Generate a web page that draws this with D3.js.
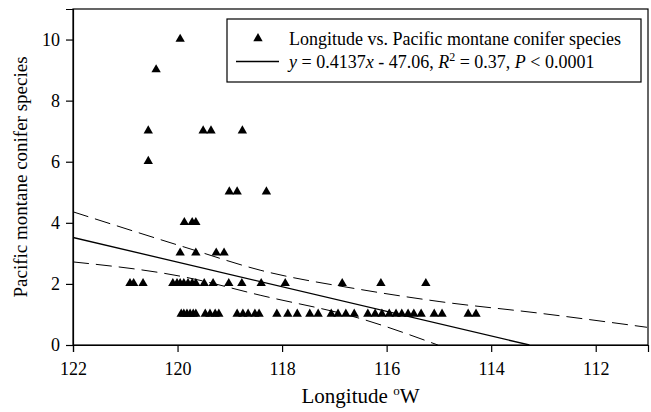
<!DOCTYPE html>
<html>
<head>
<meta charset="utf-8">
<script src="https://d3js.org/d3.v7.min.js"></script>
<style>
  html, body { margin: 0; padding: 0; background: #fff; }
  svg { display: block; }
  text { font-family: "Liberation Serif", "Times New Roman", serif; fill: #000; }
</style>
</head>
<body>
<svg id="chart" width="651" height="412"></svg>
<script>
// ---- data ----
const longitude = [
  119.95,
  120.41,
  120.56, 119.51, 119.36, 118.76,
  120.56,
  119.01, 118.86, 118.30,
  119.87, 119.72, 119.65,
  119.95, 119.65, 119.26, 119.11,
  120.91, 120.84, 120.66, 120.09, 120.01, 119.95, 119.88, 119.80, 119.72, 119.65, 119.49, 119.32, 119.02, 118.77, 118.40, 117.94, 116.85, 116.11, 115.25,
  119.93, 119.88, 119.82, 119.76, 119.70, 119.65, 119.47, 119.38, 119.28, 119.21, 118.86, 118.75, 118.65, 118.52, 118.44, 118.10, 117.89, 117.71, 117.47, 117.31, 117.06, 116.93, 116.78, 116.62, 116.36, 116.22, 116.09, 115.95, 115.82, 115.71, 115.59, 115.48, 115.34, 115.09, 114.94, 114.44, 114.29
];
const species = [
  10,
  9,
  7, 7, 7, 7,
  6,
  5, 5, 5,
  4, 4, 4,
  3, 3, 3, 3,
  2, 2, 2, 2, 2, 2, 2, 2, 2, 2, 2, 2, 2, 2, 2, 2, 2, 2, 2,
  1, 1, 1, 1, 1, 1, 1, 1, 1, 1, 1, 1, 1, 1, 1, 1, 1, 1, 1, 1, 1, 1, 1, 1, 1, 1, 1, 1, 1, 1, 1, 1, 1, 1, 1, 1, 1
];
// fitted regression line (as drawn)
const fitLon = [122, 113.27];
const fitVal = [3.52, 0];
// 95% confidence band (dashed)
const upperLon = [122, 119.82, 118.42, 116.51, 114.98, 113.07, 111.02];
const upperVal = [4.36, 3.18, 2.45, 1.82, 1.42, 1.04, 0.58];
const lowerLon = [122, 119.82, 118.42, 116.51, 115.02];
const lowerVal = [2.72, 2.21, 1.63, 0.87, 0];
const xTicks = [122, 120, 118, 116, 114, 112];
const yTicks = [0, 2, 4, 6, 8, 10];
const legendLabels = ["Longitude vs. Pacific montane conifer species"];

// ---- layout ----
const FONT = "'Liberation Serif', 'Times New Roman', serif";
const svg = d3.select("#chart");
const m = { left: 73, top: 9, right: 3, bottom: 67 };
const W = 651 - m.left - m.right;
const H = 412 - m.top - m.bottom;

const x = d3.scaleLinear().domain([122, 111]).range([0, W]);
const y = d3.scaleLinear().domain([0, 11]).range([H, 0]);

const g = svg.append("g").attr("transform", `translate(${m.left},${m.top})`);

// frame
g.append("rect").attr("x", 0).attr("y", 0).attr("width", W).attr("height", H)
  .attr("fill", "none").attr("stroke", "#000").attr("stroke-width", 1.2);

// axes
const xAxis = g.append("g").attr("transform", `translate(0,${H})`)
  .call(d3.axisBottom(x).tickValues(xTicks).tickSize(7).tickPadding(6).tickFormat(d3.format("d")));
const yAxis = g.append("g")
  .call(d3.axisLeft(y).tickValues(yTicks).tickSize(7).tickPadding(6).tickFormat(d3.format("d")));
[xAxis, yAxis].forEach(a => {
  a.attr("font-family", FONT).attr("font-size", 18);
  a.select(".domain").attr("stroke", "#000").attr("stroke-width", 1.2);
  a.selectAll(".tick line").attr("stroke", "#000").attr("stroke-width", 1.2);
  a.selectAll(".tick text").attr("font-family", FONT).style("font-family", FONT)
    .style("font-size", "18px").attr("fill", "#000");
});
xAxis.selectAll(".tick text").attr("dy", "0.95em");

// clip
svg.append("defs").append("clipPath").attr("id", "clip")
  .append("rect").attr("width", W).attr("height", H);
const plot = g.append("g").attr("clip-path", "url(#clip)");

const line = d3.line().x(d => x(d[0])).y(d => y(d[1]));
const curve = d3.line().x(d => x(d[0])).y(d => y(d[1])).curve(d3.curveMonotoneX);

plot.append("path").datum(fitLon.map((v, i) => [v, fitVal[i]]))
  .attr("d", line).attr("fill", "none").attr("stroke", "#000").attr("stroke-width", 1.3);
plot.append("path").datum(upperLon.map((v, i) => [v, upperVal[i]]))
  .attr("d", curve).attr("fill", "none").attr("stroke", "#000").attr("stroke-width", 1)
  .attr("stroke-dasharray", "16,7");
plot.append("path").datum(lowerLon.map((v, i) => [v, lowerVal[i]]))
  .attr("d", curve).attr("fill", "none").attr("stroke", "#000").attr("stroke-width", 1)
  .attr("stroke-dasharray", "16,7");

// points
const tri = d3.symbol().type(d3.symbolTriangle).size(38);
plot.selectAll("path.pt").data(longitude.map((v, i) => [v, species[i]]))
  .join("path").attr("class", "pt")
  .attr("transform", d => `translate(${x(d[0])},${y(d[1]) - 0.5})`)
  .attr("d", tri).attr("fill", "#000");

// legend
const lg = svg.append("g");
lg.append("rect").attr("x", 227).attr("y", 19).attr("width", 414).attr("height", 63)
  .attr("fill", "#fff").attr("stroke", "#000").attr("stroke-width", 1.2);
lg.append("path").attr("d", tri).attr("transform", "translate(258,38.5)").attr("fill", "#000");
lg.append("line").attr("x1", 236).attr("x2", 279).attr("y1", 61.5).attr("y2", 61.5)
  .attr("stroke", "#000").attr("stroke-width", 1.3);
lg.append("text").attr("x", 289).attr("y", 44.5).attr("font-family", FONT).style("font-size", "18px").text(legendLabels[0]);
const eq = lg.append("text").attr("x", 289).attr("y", 67.5).attr("font-family", FONT).style("font-size", "18px");
eq.append("tspan").style("font-style", "italic").text("y");
eq.append("tspan").text(" = 0.4137");
eq.append("tspan").style("font-style", "italic").text("x");
eq.append("tspan").text(" - 47.06, ");
eq.append("tspan").style("font-style", "italic").text("R");
eq.append("tspan").attr("dy", -7).style("font-size", "12px").text("2");
eq.append("tspan").attr("dy", 7).text(" = 0.37, ");
eq.append("tspan").style("font-style", "italic").text("P");
eq.append("tspan").text(" < 0.0001");

// axis titles
const xl = svg.append("text").attr("x", m.left + W / 2).attr("y", 403)
  .attr("text-anchor", "middle").attr("font-family", FONT).style("font-size", "21px");
xl.append("tspan").text("Longitude ");
xl.append("tspan").attr("dy", -8).style("font-size", "13px").text("o");
xl.append("tspan").attr("dy", 8).text("W");

svg.append("text").attr("transform", `translate(27,${m.top + H / 2}) rotate(-90)`)
  .attr("text-anchor", "middle").attr("font-family", FONT).style("font-size", "19px")
  .text("Pacific montane conifer species");
</script>
</body>
</html>
